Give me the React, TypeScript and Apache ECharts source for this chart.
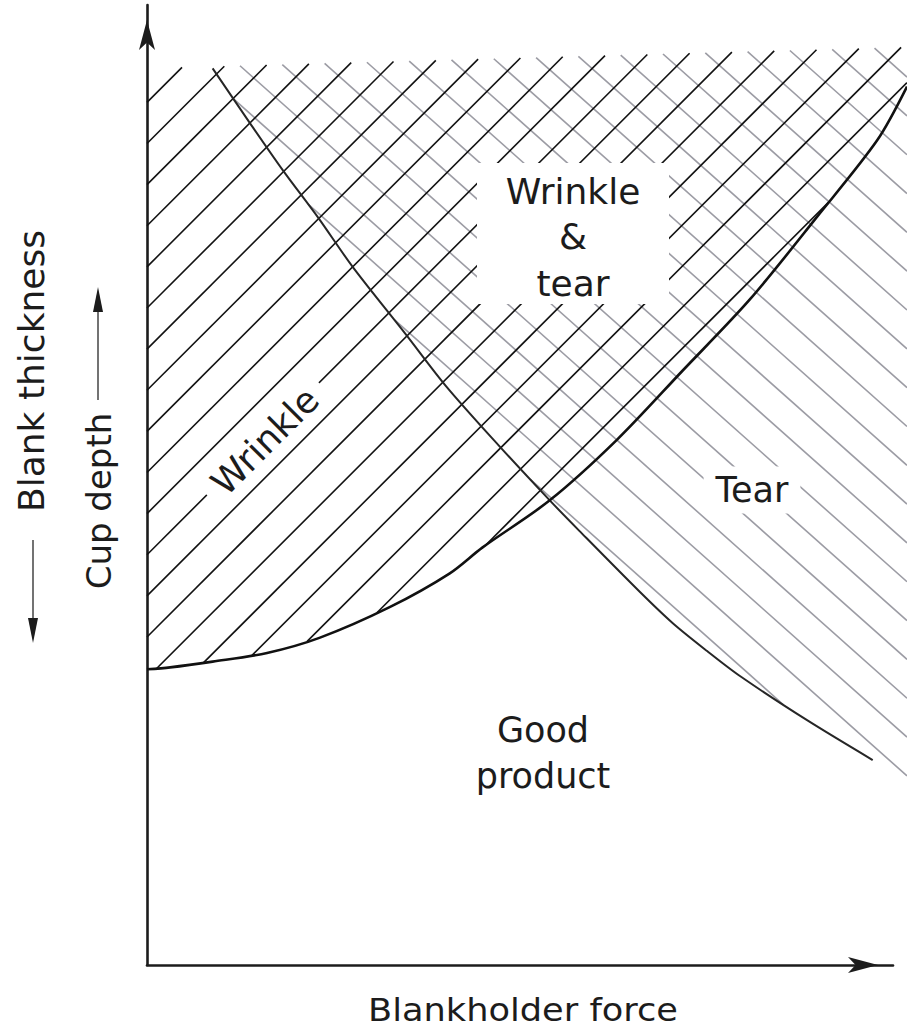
import React, { useEffect, useRef } from "react";
import * as echarts from "echarts";

// ---------- data (arbitrary units: blankholder force 0-100, cup depth 0-100) ----------
const X_MAX = 100;
const Y_MAX = 100;
const HATCH_RIGHT = 101.9; // zones run on to the right edge of the figure

// wrinkle limit: [blankholder force, cup depth]
const wrinkleLimit: number[][] = [
  [0, 30.8], [3.1, 31.0], [8.8, 31.6], [16.1, 32.5], [23.2, 34.1], [32.6, 37.3],
  [40.6, 40.8], [45.0, 43.5], [54.0, 48.4], [63.0, 54.7], [71.8, 61.9],
  [80.8, 69.3], [89.8, 77.9], [97.9, 85.9], [101.9, 91.5],
];

// tear limit: [blankholder force, cup depth]
const tearLimit: number[][] = [
  [8.8, 93.4], [13.8, 87.7], [18.2, 82.8], [22.9, 77.9], [27.6, 72.7],
  [34.6, 65.8], [40.2, 60.2], [47.3, 54.0], [54.0, 48.4], [58.0, 45.2],
  [66.1, 38.85], [70.5, 35.6], [75.1, 32.7], [79.5, 30.1], [88.5, 25.5],
  [97.3, 21.35],
];

// tear zone continues past the drawn curve to the figure edge
const tearZoneTail: number[][] = [[101.9, 19.3]];

// upper edge of the hatched zones
const hatchTop: number[][] = [[0, 93.4], [101.9, 95.6]];

const xAxisName = "Blankholder force";
const yAxisNameDown = "Blank thickness";
const yAxisNameUp = "Cup depth";
const zoneWrinkle = "Wrinkle";
const zoneTear = "Tear";
const zoneBoth = ["Wrinkle", "&", "tear"];
const zoneGood = ["Good", "product"];

// ---------- styles ----------
const INK = "#1c1c1c";
const HATCH_STEP = 42.3;
const FONT = '"DejaVu Sans", "Noto Sans", sans-serif';

function interp(pts: number[][], x: number): number {
  const n = pts.length;
  if (!(x >= pts[0][0] - 1e-6 && x <= pts[n - 1][0] + 1e-6)) return NaN;
  for (let i = 1; i < n; i++) {
    if (x <= pts[i][0] + 1e-9) {
      const a = pts[i - 1];
      const b = pts[i];
      const t = (x - a[0]) / (b[0] - a[0] || 1);
      return a[1] + t * (b[1] - a[1]);
    }
  }
  return pts[n - 1][1];
}

function hatchRenderer(
  lowerData: number[][],
  slopePx: number,
  anchorOffsetPx: number,
  color: string,
  width: number
) {
  return (_params: any, api: any) => {
    const lower = lowerData.map((p) => api.coord(p));
    const topA = api.coord(hatchTop[0]);
    const topB = api.coord(hatchTop[1]);
    const topY = (x: number) =>
      topA[1] + ((x - topA[0]) * (topB[1] - topA[1])) / (topB[0] - topA[0]);
    const xL = api.coord([0, 0])[0];
    const xR = api.coord([HATCH_RIGHT, 0])[0];
    const children: any[] = [];
    for (let n = -40; n <= 60; n++) {
      const xa = xL + anchorOffsetPx + n * HATCH_STEP;
      const ya = topY(xa);
      const lineY = (x: number) => ya + slopePx * (x - xa);
      const inside = (x: number) => {
        if (x < xL - 1e-6 || x > xR + 1e-6) return false;
        const y = lineY(x);
        const lo = interp(lower, x);
        return y >= topY(x) && y <= lo;
      };
      const edge = (a: number, b: number) => {
        const sa = inside(a);
        for (let i = 0; i < 16; i++) {
          const m = (a + b) / 2;
          if (inside(m) === sa) a = m;
          else b = m;
        }
        return (a + b) / 2;
      };
      const push = (s: number, e: number) => {
        if (e - s < 0.8) return;
        children.push({
          type: "line",
          shape: { x1: s, y1: lineY(s), x2: e, y2: lineY(e) },
          style: { stroke: color, lineWidth: width, lineCap: "butt" },
          silent: true,
        });
      };
      let start: number | null = null;
      let prevIn = false;
      let prevX = xL;
      for (let x = xL; x <= xR + 1e-6; x += 0.5) {
        const ins = inside(x);
        if (ins && !prevIn) start = x === xL ? xL : edge(prevX, x);
        if (!ins && prevIn && start !== null) {
          push(start, edge(prevX, x));
          start = null;
        }
        prevIn = ins;
        prevX = x;
      }
      if (prevIn && start !== null) push(start, inside(xR) ? xR : edge(prevX, xR));
    }
    return { type: "group", children };
  };
}

function txt(
  text: string,
  x: number,
  y: number,
  size: number,
  extra: any = {},
  styleExtra: any = {}
) {
  return {
    type: "text",
    x,
    y,
    z: 100,
    silent: true,
    ...extra,
    style: {
      text,
      x: 0,
      y: 0,
      font: `${size}px ${FONT}`,
      fill: INK,
      textAlign: "center",
      align: "center",
      textVerticalAlign: "middle",
      verticalAlign: "middle",
      ...styleExtra,
    },
  };
}

export default function App() {
  const ref = useRef<HTMLDivElement>(null);

  useEffect(() => {
    if (!ref.current) return;
    const chart = echarts.init(ref.current, undefined, { renderer: "svg" });

    const axisVisible = {
      type: "value" as const,
      min: 0,
      gridIndex: 0,
      axisLine: {
        show: true,
        onZero: true,
        symbol: ["none", "arrow"],
        symbolSize: [12, 30],
        symbolOffset: [0, -15],
        lineStyle: { color: INK, width: 2.6 },
      },
      axisTick: { show: false },
      axisLabel: { show: false },
      splitLine: { show: false },
    };
    const axisHidden = {
      type: "value" as const,
      min: 0,
      gridIndex: 1,
      show: false,
      axisLine: { show: false },
      axisTick: { show: false },
      axisLabel: { show: false },
      splitLine: { show: false },
    };

    const option: any = {
      animation: false,
      backgroundColor: "#ffffff",
      grid: [
        { left: 147, right: 14, top: 5, bottom: 68, containLabel: false },
        { left: 147, right: 0, top: 5, bottom: 68, containLabel: false },
      ],
      xAxis: [
        { ...axisVisible, max: X_MAX },
        { ...axisHidden, max: HATCH_RIGHT },
      ],
      yAxis: [
        { ...axisVisible, max: Y_MAX },
        { ...axisHidden, max: Y_MAX },
      ],
      series: [
        {
          type: "custom",
          name: "Tear zone",
          xAxisIndex: 1,
          yAxisIndex: 1,
          silent: true,
          z: 1,
          clip: false,
          data: [[0, 0]],
          renderItem: hatchRenderer(
            tearLimit.concat(tearZoneTail),
            0.89,
            93,
            "#9c9ca4",
            1.6
          ),
        },
        {
          type: "custom",
          name: "Wrinkle zone",
          xAxisIndex: 1,
          yAxisIndex: 1,
          silent: true,
          z: 2,
          clip: false,
          data: [[0, 0]],
          renderItem: hatchRenderer(wrinkleLimit, -1.0, 35, "#121212", 1.6),
        },
        {
          type: "line",
          name: "Tear limit",
          xAxisIndex: 1,
          yAxisIndex: 1,
          data: tearLimit,
          smooth: 0.3,
          showSymbol: false,
          symbol: "none",
          clip: false,
          z: 4,
          lineStyle: { color: "#262626", width: 2 },
        },
        {
          type: "line",
          name: "Wrinkle limit",
          xAxisIndex: 1,
          yAxisIndex: 1,
          data: wrinkleLimit,
          smooth: 0.3,
          showSymbol: false,
          symbol: "none",
          clip: false,
          z: 5,
          lineStyle: { color: "#111111", width: 2.6 },
        },
      ],
      graphic: [
        // clear area around "Wrinkle & tear"
        {
          type: "rect",
          z: 90,
          silent: true,
          shape: { x: 477, y: 163, width: 192, height: 141 },
          style: { fill: "#ffffff" },
        },
        txt(zoneBoth[0], 573, 191, 36),
        txt(zoneBoth[1], 573, 236, 36),
        txt(zoneBoth[2], 573, 283, 36),
        txt(zoneTear, 752, 490, 35, {}, {
          backgroundColor: "#ffffff",
          padding: [6, 12, 6, 12],
        }),
        txt(zoneWrinkle, 265, 441, 36, { rotation: Math.PI / 4 }, {
          backgroundColor: "#ffffff",
          padding: [0, 12, 0, 12],
        }),
        txt(zoneGood[0], 543, 730, 35),
        txt(zoneGood[1], 543, 776, 35),
        txt(xAxisName, 523, 1010, 32, { scaleX: 1.1 }),
        // y labels
        txt(yAxisNameDown, 31, 371, 36, { rotation: Math.PI / 2 }),
        {
          type: "line",
          z: 100,
          silent: true,
          shape: { x1: 33, y1: 540, x2: 33, y2: 625 },
          style: { stroke: "#444", lineWidth: 1.5 },
        },
        {
          type: "polygon",
          z: 100,
          silent: true,
          shape: { points: [[28, 618], [38, 618], [33, 643]] },
          style: { fill: INK },
        },
        txt(yAxisNameUp, 99, 501, 34, { rotation: Math.PI / 2 }),
        {
          type: "line",
          z: 100,
          silent: true,
          shape: { x1: 98, y1: 400, x2: 98, y2: 305 },
          style: { stroke: "#444", lineWidth: 1.5 },
        },
        {
          type: "polygon",
          z: 100,
          silent: true,
          shape: { points: [[93, 312], [103, 312], [98, 287]] },
          style: { fill: INK },
        },
      ],
    };

    chart.setOption(option);
    return () => chart.dispose();
  }, []);

  return (
    <div
      ref={ref}
      style={{ position: "absolute", left: 0, top: 0, width: 907, height: 1033 }}
    />
  );
}
